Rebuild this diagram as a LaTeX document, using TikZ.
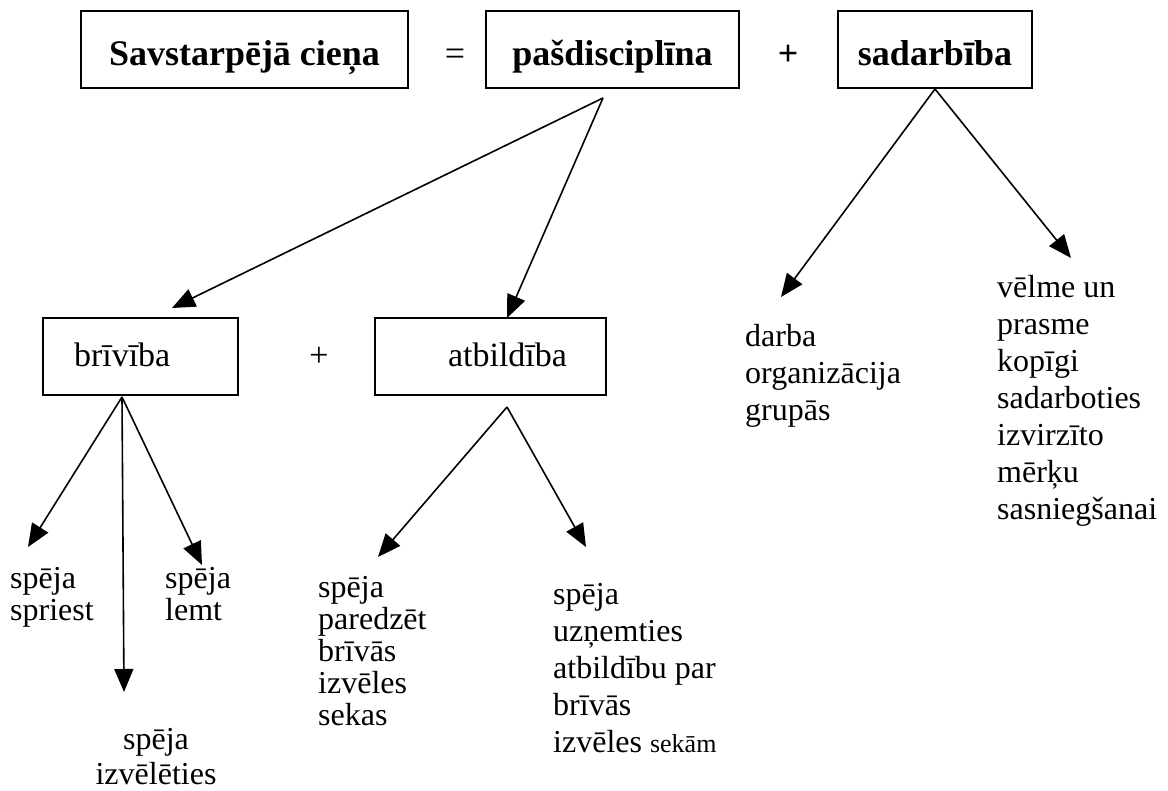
\documentclass[tikz,border=0pt]{standalone}
\usepackage{fontspec}
\setmainfont{Liberation Serif}
\usetikzlibrary{arrows.meta}
\begin{document}
\begin{tikzpicture}[x=1pt,y=-1pt,
  topbox/.style={draw,line width=1.5pt,minimum height=77pt,inner sep=0pt,
    text height=33pt,text depth=0pt,font=\fontsize{36}{40}\selectfont\bfseries},
  midbox/.style={draw,line width=1.4pt,minimum height=77pt,inner ysep=0pt,
    text height=21pt,text depth=0pt,font=\fontsize{34}{40}\selectfont},
  leaf/.style={anchor=north west,inner sep=0pt,align=left,font=\fontsize{32}{37}\selectfont},
  tightleaf/.style={leaf,font=\fontsize{32}{32}\selectfont},
  arr/.style={-{Triangle[length=23pt,width=19pt]},line width=1.6pt},
  sign/.style={anchor=base,inner sep=0pt}]
\useasboundingbox (0,0) rectangle (1168,791);

% top row: equation of boxes
\node[topbox,minimum width=327pt] (ciena) at (244.5,49.5) {Savstarpējā cieņa};
\node[sign,font=\fontsize{36}{40}\selectfont] (eq) at (455,66) {=};
\node[topbox,minimum width=253pt] (pasd) at (612.5,49.5) {pašdisciplīna};
\node[sign,font=\fontsize{36}{40}\selectfont\bfseries] (plus1) at (788,66) {+};
\node[topbox,minimum width=194pt] (sadarb) at (935,49.5) {sadarbība};

% second row
\node[midbox,inner xsep=31pt,text width=133pt,align=left] (briv) at (140.5,356.5) {brīvība};
\node[sign,font=\fontsize{34}{40}\selectfont] (plus2) at (319,367) {+};
\node[midbox,inner xsep=39pt,text width=153pt,align=right] (atbild) at (490.5,356.5) {atbildība};

% leaves
\node[tightleaf] (spriest) at (10,567) {spēja\\spriest};
\node[tightleaf] (lemt) at (165,567) {spēja\\lemt};
\node[anchor=north,inner sep=0pt,align=center,font=\fontsize{32}{35}\selectfont] (izvel) at (156,728) {spēja\\izvēlēties};
\node[tightleaf] (paredz) at (318,576) {spēja\\paredzēt\\brīvās\\izvēles\\sekas};
\node[leaf] (uznem) at (553,583) {spēja\\uzņemties\\atbildību par\\brīvās\\izvēles {\fontsize{26}{37}\selectfont sekām}};
\node[leaf] (darba) at (745,324) {darba\\organizācija\\grupās};
\node[leaf] (velme) at (997,275) {vēlme un\\prasme\\kopīgi\\sadarboties\\izvirzīto\\mērķu\\sasniegšanai};

% arrow origins and tips
\coordinate (pO) at (603,98);
\coordinate (sO) at (935,89);
\coordinate (bO) at (122,397);
\coordinate (aO) at (507,407);
\coordinate (toBriv) at (172,308);
\coordinate (toAtb) at (507,318);
\coordinate (toDarba) at (781,297);
\coordinate (toVelme) at (1071,258);
\coordinate (toSpr) at (28,547);
\coordinate (toLemt) at (202,565);
\coordinate (toIzv) at (124,692);
\coordinate (toPar) at (378,557);
\coordinate (toUzn) at (586,547);

\draw[arr] (pO) -- (toBriv);
\draw[arr] (pO) -- (toAtb);
\draw[arr] (sO) -- (toDarba);
\draw[arr] (sO) -- (toVelme);
\draw[arr] (bO) -- (toSpr);
\draw[arr] (bO) -- (toLemt);
\draw[arr] (bO) -- (toIzv);
\draw[arr] (aO) -- (toPar);
\draw[arr] (aO) -- (toUzn);
\end{tikzpicture}
\end{document}
